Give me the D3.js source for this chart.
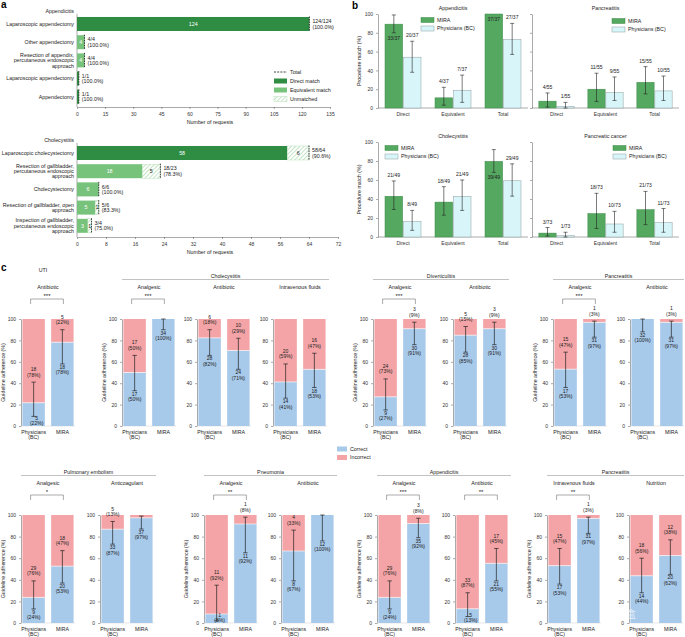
<!DOCTYPE html>
<html>
<head>
<meta charset="utf-8">
<script src="https://cdn.jsdelivr.net/npm/d3@7"></script>
<style>
body { margin: 0; background: #fff; }
svg { font-family: "Liberation Sans", Arial, sans-serif; }
.axis text { font-size: 5px; fill: #333; }
.axis path, .axis line { stroke: #555; stroke-width: 0.5; }
</style>
</head>
<body>
<svg id="fig" width="685" height="637"></svg>
<script>
//---------------- panel a data
const aAppCats = ['Laparoscopic appendectomy', 'Other appendectomy',
  'Resection of appendix,|percutaneous endoscopic|approach',
  'Laparoscopic appendectomy', 'Appendectomy'];
const aAppDirect = [124, 0, 0, 1, 1];
const aAppEquiv = [0, 4, 4, 0, 0];
const aAppUnmatched = [0, 0, 0, 0, 0];
const aAppTicks = [0, 15, 30, 45, 60, 75, 90, 105, 120, 135];

const aChoCats = ['Laparoscopic cholecystectomy',
  'Resection of gallbladder,|percutaneous endoscopic|approach',
  'Cholecystectomy', 'Resection of gallbladder, open|approach',
  'Inspection of gallbladder,|percutaneous endoscopic|approach'];
const aChoDirect = [58, 0, 0, 0, 0];
const aChoEquiv = [0, 18, 6, 5, 3];
const aChoUnmatched = [6, 5, 0, 1, 1];
const aChoTicks = [0, 8, 16, 24, 32, 40, 48, 56, 64, 72];

//---------------- panel b data
const bCats = ['Direct', 'Equivalent', 'Total'];
const bTitles = ['Appendicitis', 'Pancreatitis', 'Cholecystitis', 'Pancreatic cancer'];
const bDenom = [37, 55, 49, 73];
const bMira = [[33, 4, 37], [4, 11, 15], [21, 18, 39], [3, 18, 21]];
const bPhys = [[20, 7, 27], [1, 9, 10], [8, 21, 29], [1, 10, 11]];
const bMiraLo = [[80, 3, 100], [1, 7, 15], [29, 23, 68], [1, 9, 13]];
const bMiraHi = [[99, 22, 100], [16, 37, 44], [59, 53, 92], [10, 46, 48]];
const bPhysLo = [[38, 6, 57], [0, 8, 8], [7, 28, 43], [0, 5, 5]];
const bPhysHi = [[71, 35, 90], [6, 33, 34], [28, 60, 77], [5, 27, 30]];
const bTicks = [0, 20, 40, 60, 80, 100];

//---------------- panel c data
const cTreat = ['Antibiotic', 'Analgesic', 'Antibiotic', 'Intravenous fluids',
  'Analgesic', 'Antibiotic', 'Analgesic', 'Antibiotic',
  'Analgesic', 'Anticoagulant', 'Analgesic', 'Antibiotic',
  'Analgesic', 'Antibiotic', 'Intravenous fluids', 'Nutrition'];
const cPhysCorrect   = [5, 17, 28, 14, 9, 28, 17, 32,  9, 33, 1, 8, 9, 5, 17, 14];
const cPhysIncorrect = [18, 17, 6, 20, 24, 5, 15, 0,  29, 5, 11, 4, 29, 33, 15, 18];
const cMiraCorrect   = [18, 34, 24, 18, 30, 30, 31, 31,  20, 37, 11, 12, 35, 21, 31, 20];
const cMiraIncorrect = [5, 0, 10, 16, 3, 3, 1, 1,  18, 1, 1, 0, 3, 17, 1, 12];
const cPhysLo = [9, 33, 66, 26, 15, 69, 36, 88,  13, 73, 2, 39, 13, 6, 36, 28];
const cPhysHi = [41, 66, 90, 58, 44, 93, 69, 100,  39, 94, 35, 86, 39, 28, 69, 60];
const cMiraLo = [58, 90, 53, 36, 76, 76, 83, 83,  37, 87, 65, 76, 79, 39, 83, 45];
const cMiraHi = [90, 100, 82, 68, 97, 97, 98, 98,  67, 99, 98, 100, 97, 69, 98, 77];
const cSig = ['***', '***', '', '', '***', '', '***', '',  '*', '', '**', '', '***', '**', '**', ''];
const cDiseases = ['UTI', 'Cholecystitis', 'Diverticulitis', 'Pancreatitis',
  'Pulmonary embolism', 'Pneumonia', 'Appendicitis', 'Pancreatitis'];
const cDiseaseSpan = [[0, 0], [1, 3], [4, 5], [6, 7], [8, 9], [10, 11], [12, 13], [14, 15]];
const cUnlabelled = [9];   // MIRA incorrect with no number printed
const cTicks = [0, 20, 40, 60, 80, 100];

//---------------- styles
const colDirect = '#2f8c43', colEquiv = '#78c37c';
const colMira = '#55a860', colMiraStroke = '#3c8a47';
const colPhys = '#d8f6fa', colPhysStroke = '#8d9c9e';
const colCorrect = '#a7c9ea', colIncorrect = '#f4a4a6';
const fs = 5.3;

const svg = d3.select('#fig');

const defs = svg.append('defs');
const pat = defs.append('pattern').attr('id', 'hatch')
  .attr('patternUnits', 'userSpaceOnUse').attr('width', 3).attr('height', 3)
  .attr('patternTransform', 'rotate(45)');
pat.append('rect').attr('width', 3).attr('height', 3).attr('fill', '#fff');
pat.append('line').attr('x1', 0).attr('y1', 0).attr('x2', 0).attr('y2', 3)
  .attr('stroke', '#9dd3a0').attr('stroke-width', 1.2);

//multi-line text centred vertically on yc
function multiText(g, x, yc, lines, step, anchor, size, fill) {
  const t = g.append('text').attr('text-anchor', anchor)
    .attr('font-size', size).attr('fill', fill || '#222');
  const y0 = yc - (lines.length - 1) * step / 2;
  lines.forEach((l, k) => t.append('tspan').attr('x', x).attr('y', y0 + k * step)
    .attr('dy', '0.35em').text(l));
  return t;
}

function roundEven(v) {
  const f = Math.floor(v);
  const diff = v - f;
  if (Math.abs(diff - 0.5) < 1e-9) return f % 2 === 0 ? f : f + 1;
  return Math.round(v);
}

// panel letters
svg.append('text').attr('x', 1).attr('y', 8).attr('font-size', 10).attr('font-weight', 'bold').text('a');
svg.append('text').attr('x', 352).attr('y', 9).attr('font-size', 10).attr('font-weight', 'bold').text('b');
svg.append('text').attr('x', 1).attr('y', 271).attr('font-size', 10).attr('font-weight', 'bold').text('c');

//================ panel a
function drawA(cats, direct, equiv, unmatched, ticks, title, top, axisY, xEnd) {
  const g = svg.append('g');
  const x = d3.scaleLinear().domain([0, ticks[ticks.length - 1]]).range([77, xEnd]);
  const y = d3.scaleBand().domain(d3.range(cats.length))
    .range([top, top + 91.2]).paddingInner(0.23).paddingOuter(0.12);
  const bh = y.bandwidth();

  g.append('g').attr('class', 'axis').attr('transform', `translate(0,${axisY})`)
    .call(d3.axisBottom(x).tickValues(ticks).tickSize(2).tickSizeOuter(0));
  g.append('line').attr('x1', 77).attr('x2', 77).attr('y1', top - 1).attr('y2', axisY)
    .attr('stroke', '#555').attr('stroke-width', 0.5);
  g.append('text').attr('x', 210).attr('y', axisY + 17).attr('text-anchor', 'middle')
    .attr('font-size', fs).attr('fill', '#222').text('Number of requests');
  g.append('text').attr('x', 74).attr('y', top - 2).attr('text-anchor', 'end')
    .attr('font-size', fs).attr('fill', '#222').text(title);

  cats.forEach((c, i) => {
    const yc = y(i) + bh / 2;
    multiText(g, 74, yc, c.split('|'), 5.3, 'end', fs);
    const d = direct[i], e = equiv[i], u = unmatched[i];
    const segs = [
      { v0: 0, v1: d, fill: colDirect, txt: '#fff' },
      { v0: d, v1: d + e, fill: colEquiv, txt: '#fff' },
      { v0: d + e, v1: d + e + u, fill: 'url(#hatch)', txt: '#222' }
    ].filter(s => s.v1 > s.v0);
    g.selectAll(null).data(segs).enter().append('rect')
      .attr('x', s => x(s.v0)).attr('y', y(i))
      .attr('width', s => x(s.v1) - x(s.v0)).attr('height', bh)
      .attr('fill', s => s.fill)
      .attr('stroke', s => s.txt === '#222' ? '#a9d9ab' : 'none').attr('stroke-width', 0.4);
    g.selectAll(null).data(segs.filter(s => x(s.v1) - x(s.v0) >= 3.5)).enter().append('text')
      .attr('x', s => (x(s.v0) + x(s.v1)) / 2).attr('y', yc).attr('dy', '0.35em')
      .attr('text-anchor', 'middle').attr('font-size', fs).attr('fill', s => s.txt)
      .text(s => s.v1 - s.v0);
    const total = d + e + u, matched = d + e;
    g.append('line').attr('x1', x(total)).attr('x2', x(total))
      .attr('y1', y(i) - 0.5).attr('y2', y(i) + bh + 0.5)
      .attr('stroke', '#111').attr('stroke-width', 0.8).attr('stroke-dasharray', '1.6,0.9');
    multiText(g, x(total) + 3, yc,
      [`${matched}/${total}`, `(${(matched / total * 100).toFixed(1)}%)`], 5.4, 'start', fs);
  });
}
drawA(aAppCats, aAppDirect, aAppEquiv, aAppUnmatched, aAppTicks, 'Appendicitis', 14.8, 107, 330);
drawA(aChoCats, aChoDirect, aChoEquiv, aChoUnmatched, aChoTicks, 'Cholecystitis', 143.8, 237, 338);

// legend a
const legA = svg.append('g');
const legAItems = ['Total', 'Direct match', 'Equivalent match', 'Unmatched'];
legAItems.forEach((t, k) => {
  const yy = 72 + k * 9;
  if (k === 0) {
    legA.append('line').attr('x1', 274).attr('x2', 287).attr('y1', yy).attr('y2', yy)
      .attr('stroke', '#111').attr('stroke-width', 0.8).attr('stroke-dasharray', '2,1.2');
  } else {
    legA.append('rect').attr('x', 274).attr('y', yy - 2.5).attr('width', 13).attr('height', 5)
      .attr('fill', [colDirect, colEquiv, 'url(#hatch)'][k - 1])
      .attr('stroke', k === 3 ? '#a9d9ab' : 'none').attr('stroke-width', 0.4);
  }
  legA.append('text').attr('x', 290).attr('y', yy).attr('dy', '0.35em')
    .attr('font-size', fs).attr('fill', '#222').text(t);
});

//================ panel b
const bLayout = [
  { x0: 378, x1: 528, yT: 14, yB: 108, lx: 421, ly: 20, labels: true },
  { x0: 532, x1: 679, yT: 14, yB: 108, lx: 612, ly: 21, labels: false },
  { x0: 378, x1: 528, yT: 142, yB: 237, lx: 385, ly: 148, labels: true },
  { x0: 532, x1: 679, yT: 142, yB: 237, lx: 613, ly: 148, labels: false }
];

bTitles.forEach((title, p) => {
  const L = bLayout[p];
  const g = svg.append('g');
  const x = d3.scaleBand().domain(bCats).range([L.x0, L.x1]).paddingInner(0.28).paddingOuter(0.14);
  const xs = d3.scaleBand().domain(['MIRA', 'Physicians']).range([0, x.bandwidth()]).paddingInner(0.04);
  const y = d3.scaleLinear().domain([0, 100]).range([L.yB, L.yT]);

  const yAxis = d3.axisLeft(y).tickValues(bTicks).tickSize(2).tickSizeOuter(0);
  if (!L.labels) yAxis.tickFormat('');
  g.append('g').attr('class', 'axis').attr('transform', `translate(${L.x0},0)`).call(yAxis);
  const xg = g.append('g').attr('class', 'axis').attr('transform', `translate(0,${L.yB})`)
    .call(d3.axisBottom(x).tickSize(0).tickSizeOuter(0).tickPadding(4));
  xg.selectAll('text').attr('font-size', fs);
  xg.select('path').attr('d', `M${L.x0},0H${L.x1}`);
  if (L.labels) {
    g.append('text').attr('transform', `translate(361,${(L.yT + L.yB) / 2}) rotate(-90)`)
      .attr('text-anchor', 'middle').attr('font-size', fs).attr('fill', '#222').text('Procedure match (%)');
  }
  g.append('text').attr('x', (L.x0 + L.x1) / 2).attr('y', L.yT - 6).attr('dy', '0.35em')
    .attr('text-anchor', 'middle').attr('font-size', fs).attr('fill', '#222').text(title);

  const bars = [];
  bCats.forEach((c, k) => {
    bars.push({ cat: c, who: 'MIRA', n: bMira[p][k], lo: bMiraLo[p][k], hi: bMiraHi[p][k] });
    bars.push({ cat: c, who: 'Physicians', n: bPhys[p][k], lo: bPhysLo[p][k], hi: bPhysHi[p][k] });
  });
  bars.forEach(b => { b.v = b.n / bDenom[p] * 100; b.cx = x(b.cat) + xs(b.who) + xs.bandwidth() / 2; });

  g.selectAll('rect.bar').data(bars).enter().append('rect').attr('class', 'bar')
    .attr('x', b => x(b.cat) + xs(b.who)).attr('width', xs.bandwidth())
    .attr('y', b => y(b.v)).attr('height', b => L.yB - y(b.v))
    .attr('fill', b => b.who === 'MIRA' ? colMira : colPhys)
    .attr('stroke', b => b.who === 'MIRA' ? colMiraStroke : colPhysStroke).attr('stroke-width', 0.5);

  const eb = g.selectAll('g.eb').data(bars.filter(b => b.hi > b.lo)).enter().append('g')
    .attr('stroke', '#222').attr('stroke-width', 0.6);
  eb.append('line').attr('x1', b => b.cx).attr('x2', b => b.cx).attr('y1', b => y(b.lo)).attr('y2', b => y(b.hi));
  eb.append('line').attr('x1', b => b.cx - 2).attr('x2', b => b.cx + 2).attr('y1', b => y(b.lo)).attr('y2', b => y(b.lo));
  eb.append('line').attr('x1', b => b.cx - 2).attr('x2', b => b.cx + 2).attr('y1', b => y(b.hi)).attr('y2', b => y(b.hi));

  g.selectAll('text.lab').data(bars).enter().append('text').attr('class', 'lab')
    .attr('x', b => b.cx)
    .attr('y', b => b.v >= 75 ? y(b.lo) + 5 : y(b.hi) - 4)
    .attr('dy', b => b.v >= 75 ? '0.35em' : '0')
    .attr('text-anchor', 'middle').attr('font-size', 5).attr('fill', '#222')
    .text(b => `${b.n}/${bDenom[p]}`);

  // legend
  [['MIRA', colMira, colMiraStroke], ['Physicians (BC)', colPhys, colPhysStroke]].forEach((it, k) => {
    const yy = L.ly + k * 8.5;
    g.append('rect').attr('x', L.lx).attr('y', yy - 2.5).attr('width', 13).attr('height', 5)
      .attr('fill', it[1]).attr('stroke', it[2]).attr('stroke-width', 0.5);
    g.append('text').attr('x', L.lx + 16).attr('y', yy).attr('dy', '0.35em')
      .attr('font-size', fs).attr('fill', '#222').text(it[0]);
  });
});

//================ panel c
const cRowY = [[319, 426], [515, 623]];
const cAxisX = [21, 122, 197, 273, 373, 453, 553, 630, 21, 100, 204, 281, 377, 455, 547, 629];
const firstOfGroup = cDiseaseSpan.map(s => s[0]);

cTreat.forEach((treat, i) => {
  const row = i < 8 ? 0 : 1;
  const [yT, yB] = cRowY[row];
  const ax = cAxisX[i];
  const g = svg.append('g');
  const x = d3.scaleBand().domain(['Physicians', 'MIRA']).range([ax, ax + 54])
    .paddingInner(0.22).paddingOuter(0.05);
  const y = d3.scaleLinear().domain([0, 100]).range([yB, yT]);

  g.append('g').attr('class', 'axis').attr('transform', `translate(${ax},0)`)
    .call(d3.axisLeft(y).tickValues(cTicks).tickSize(2).tickSizeOuter(0));
  g.append('line').attr('x1', ax).attr('x2', ax + 54).attr('y1', yB).attr('y2', yB)
    .attr('stroke', '#ccc').attr('stroke-width', 0.5);
  if (firstOfGroup.includes(i)) {
    g.append('text').attr('transform', `translate(${ax - 16},${(yT + yB) / 2}) rotate(-90)`)
      .attr('text-anchor', 'middle').attr('font-size', fs).attr('fill', '#222')
      .text('Guideline adherence (%)');
  }

  const bars = [
    { who: 'Physicians', c: cPhysCorrect[i], n: cPhysIncorrect[i], lo: cPhysLo[i], hi: cPhysHi[i] },
    { who: 'MIRA', c: cMiraCorrect[i], n: cMiraIncorrect[i], lo: cMiraLo[i], hi: cMiraHi[i] }
  ];
  bars.forEach(b => {
    b.tot = b.c + b.n;
    b.pc = b.c / b.tot * 100;
    b.cx = x(b.who) + x.bandwidth() / 2;
  });

  g.selectAll('rect.cor').data(bars).enter().append('rect').attr('class', 'cor')
    .attr('x', b => x(b.who)).attr('width', x.bandwidth())
    .attr('y', b => y(b.pc)).attr('height', b => yB - y(b.pc)).attr('fill', colCorrect);
  g.selectAll('rect.inc').data(bars.filter(b => b.n > 0)).enter().append('rect').attr('class', 'inc')
    .attr('x', b => x(b.who)).attr('width', x.bandwidth())
    .attr('y', y(100)).attr('height', b => y(b.pc) - y(100)).attr('fill', colIncorrect);
  g.selectAll('line.sep').data(bars.filter(b => b.n > 0 && b.c > 0)).enter().append('line')
    .attr('x1', b => x(b.who)).attr('x2', b => x(b.who) + x.bandwidth())
    .attr('y1', b => y(b.pc)).attr('y2', b => y(b.pc)).attr('stroke', '#fff').attr('stroke-width', 0.6);

  const eb = g.selectAll('g.eb').data(bars).enter().append('g')
    .attr('stroke', '#222').attr('stroke-width', 0.7);
  eb.append('line').attr('x1', b => b.cx).attr('x2', b => b.cx).attr('y1', b => y(b.lo)).attr('y2', b => y(b.hi));
  eb.append('line').attr('x1', b => b.cx - 2.2).attr('x2', b => b.cx + 2.2).attr('y1', b => y(b.lo)).attr('y2', b => y(b.lo));
  eb.append('line').attr('x1', b => b.cx - 2.2).attr('x2', b => b.cx + 2.2).attr('y1', b => y(b.hi)).attr('y2', b => y(b.hi));

  bars.forEach(b => {
    if (b.c > 0) {
      let yc = y(b.lo) + 6;
      let xc = b.cx;
      if (yc > yB - 5) { yc = yB - 5; xc = b.cx + 3; }
      multiText(g, xc, yc, [`${b.c}`, `(${roundEven(b.c / b.tot * 100)}%)`], 5.4, 'middle', 5);
    }
    const hidden = b.who === 'MIRA' && cUnlabelled.includes(i);
    if (b.n > 0 && !hidden) {
      multiText(g, b.cx, y(b.hi) - 10, [`${b.n}`, `(${roundEven(b.n / b.tot * 100)}%)`], 5.4, 'middle', 5);
    }
  });

  multiText(g, bars[0].cx, yB + 8.5, ['Physicians', '(BC)'], 5.6, 'middle', 5.2);
  multiText(g, bars[1].cx, yB + 6, ['MIRA'], 5.6, 'middle', 5.2);

  g.append('text').attr('x', (bars[0].cx + bars[1].cx) / 2).attr('y', yT - 32).attr('dy', '0.35em')
    .attr('text-anchor', 'middle').attr('font-size', fs).attr('fill', '#222').text(treat);

  if (cSig[i]) {
    const bt = yT - 20;
    g.append('path')
      .attr('d', `M${bars[0].cx - 3},${bt + 5}V${bt}H${bars[1].cx + 1}V${bt + 5}`)
      .attr('fill', 'none').attr('stroke', '#555').attr('stroke-width', 0.5);
    g.append('text').attr('x', (bars[0].cx + bars[1].cx) / 2 - 1).attr('y', bt - 1.5)
      .attr('text-anchor', 'middle').attr('font-size', 6).attr('fill', '#222').text(cSig[i]);
  }
});

// disease group headers
cDiseases.forEach((d, k) => {
  const [a, b] = cDiseaseSpan[k];
  const row = a < 8 ? 0 : 1;
  const yT = cRowY[row][0];
  const xa = cAxisX[a], xb = Math.min(cAxisX[b] + 56, 684);
  if (a === b) {
    svg.append('text').attr('x', xa + 22).attr('y', yT - 49).attr('dy', '0.35em')
      .attr('text-anchor', 'middle').attr('font-size', fs).attr('fill', '#222').text(d);
  } else {
    svg.append('text').attr('x', (xa + xb) / 2).attr('y', yT - 43).attr('dy', '0.35em')
      .attr('text-anchor', 'middle').attr('font-size', fs).attr('fill', '#222').text(d);
    svg.append('line').attr('x1', xa).attr('x2', xb).attr('y1', yT - 39.5).attr('y2', yT - 39.5)
      .attr('stroke', '#999').attr('stroke-width', 0.6);
  }
});

// legend c
[['Correct', colCorrect], ['Incorrect', colIncorrect]].forEach((it, k) => {
  const yy = 449 + k * 8.5;
  svg.append('rect').attr('x', 337).attr('y', yy - 2.5).attr('width', 10).attr('height', 5).attr('fill', it[1]);
  svg.append('text').attr('x', 350).attr('y', yy).attr('dy', '0.35em')
    .attr('font-size', fs).attr('fill', '#222').text(it[0]);
});

// watermark
svg.append('text').attr('x', 606).attr('y', 618).attr('font-size', 10)
  .attr('font-family', '"Noto Sans CJK SC", sans-serif')
  .attr('fill', '#fff').attr('fill-opacity', 0.7).text('小黑盒');
</script>
</body>
</html>
